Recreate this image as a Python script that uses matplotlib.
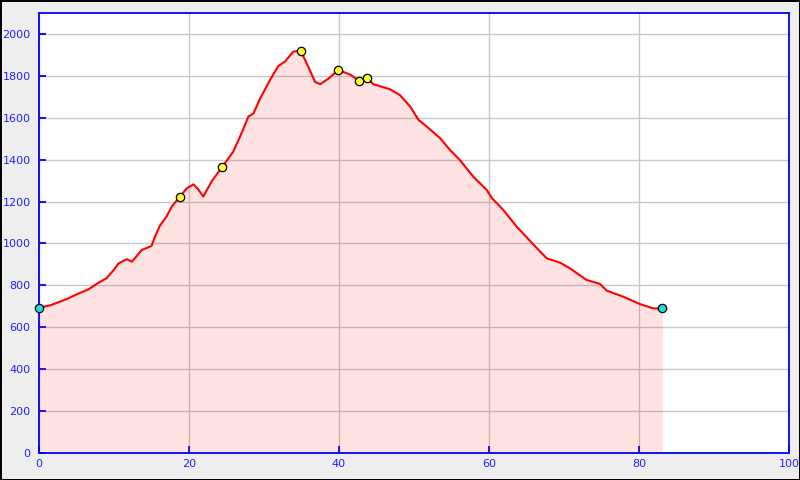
import matplotlib
matplotlib.use("Agg")
import matplotlib.pyplot as plt

# distance (km) and elevation (m)
dist = [0.0, 1.5, 3.0, 3.9, 5.2, 6.6, 7.8, 9.0, 10.0, 10.6, 11.7, 12.4, 13.7, 15.0, 15.5,
        16.1, 17.0, 17.7, 18.8, 19.7, 20.6, 21.2, 21.9, 23.0, 24.4, 25.9, 27.2, 27.9,
        28.6, 29.5, 30.8, 31.9, 32.8, 33.9, 34.9, 35.9, 36.8, 37.5, 38.7, 39.9, 41.5,
        42.7, 43.7, 44.6, 46.8, 48.1, 49.5, 50.6, 51.7, 53.5, 54.8, 56.1, 57.9, 59.7,
        60.4, 61.9, 63.7, 66.4, 67.7, 69.5, 70.8, 73.0, 74.8, 75.7, 77.9, 80.1, 81.9, 83.1]
elev = [693, 705, 725, 738, 760, 781, 810, 834, 875, 905, 925, 913, 969, 988, 1036,
        1084, 1128, 1176, 1224, 1263, 1282, 1260, 1224, 1295, 1364, 1438, 1542, 1605,
        1621, 1693, 1780, 1847, 1868, 1916, 1919, 1844, 1772, 1760, 1790, 1828, 1806,
        1776, 1791, 1760, 1736, 1709, 1653, 1590, 1558, 1502, 1446, 1399, 1319, 1255,
        1216, 1160, 1080, 977, 929, 908, 881, 826, 807, 775, 746, 711, 690, 690]

# waypoints
wp_dist = [18.8, 24.4, 34.9, 39.9, 42.7, 43.7]
wp_elev = [1224, 1364, 1919, 1828, 1774, 1791]
end_dist = [0.0, 83.1]
end_elev = [693, 690]

x_ticks = [0, 20, 40, 60, 80, 100]
y_ticks = [0, 200, 400, 600, 800, 1000, 1200, 1400, 1600, 1800, 2000]

fig = plt.figure(figsize=(8, 4.8), dpi=100, facecolor="#eeeeee", edgecolor="black")
fig.patch.set_linewidth(2)
ax = fig.add_axes([39/800, 1 - 453/480, 750/800, 440/480])
ax.set_facecolor("white")

ax.set_xlim(0, 100)
ax.set_ylim(0, 2100)
ax.set_xticks(x_ticks)
ax.set_yticks(y_ticks)
ax.grid(True, color="#c8c8c8", linewidth=1, zorder=0)
ax.set_axisbelow(True)

ax.fill_between(dist, elev, 0, color="red", alpha=0.11, linewidth=0, zorder=2)
ax.plot(dist, elev, color="red", linewidth=1.5, zorder=3)
ax.plot(wp_dist, wp_elev, "o", markersize=6, markerfacecolor="#ffff33",
        markeredgecolor="black", markeredgewidth=0.9, zorder=4, linestyle="none")
ax.plot(end_dist, end_elev, "o", markersize=6, markerfacecolor="#22dddd",
        markeredgecolor="black", markeredgewidth=0.9, zorder=4, linestyle="none",
        clip_on=False)

for s in ax.spines.values():
    s.set_color("#0000ff")
    s.set_linewidth(1.3)
ax.tick_params(direction="in", length=5, width=1.3, color="#0000ff",
               labelcolor="#2222ff", labelsize=8)
ax.tick_params(axis="y", pad=6)
ax.tick_params(axis="x", pad=4)

fig.savefig("out.png", dpi=100, facecolor=fig.get_facecolor(), edgecolor=fig.get_edgecolor())
